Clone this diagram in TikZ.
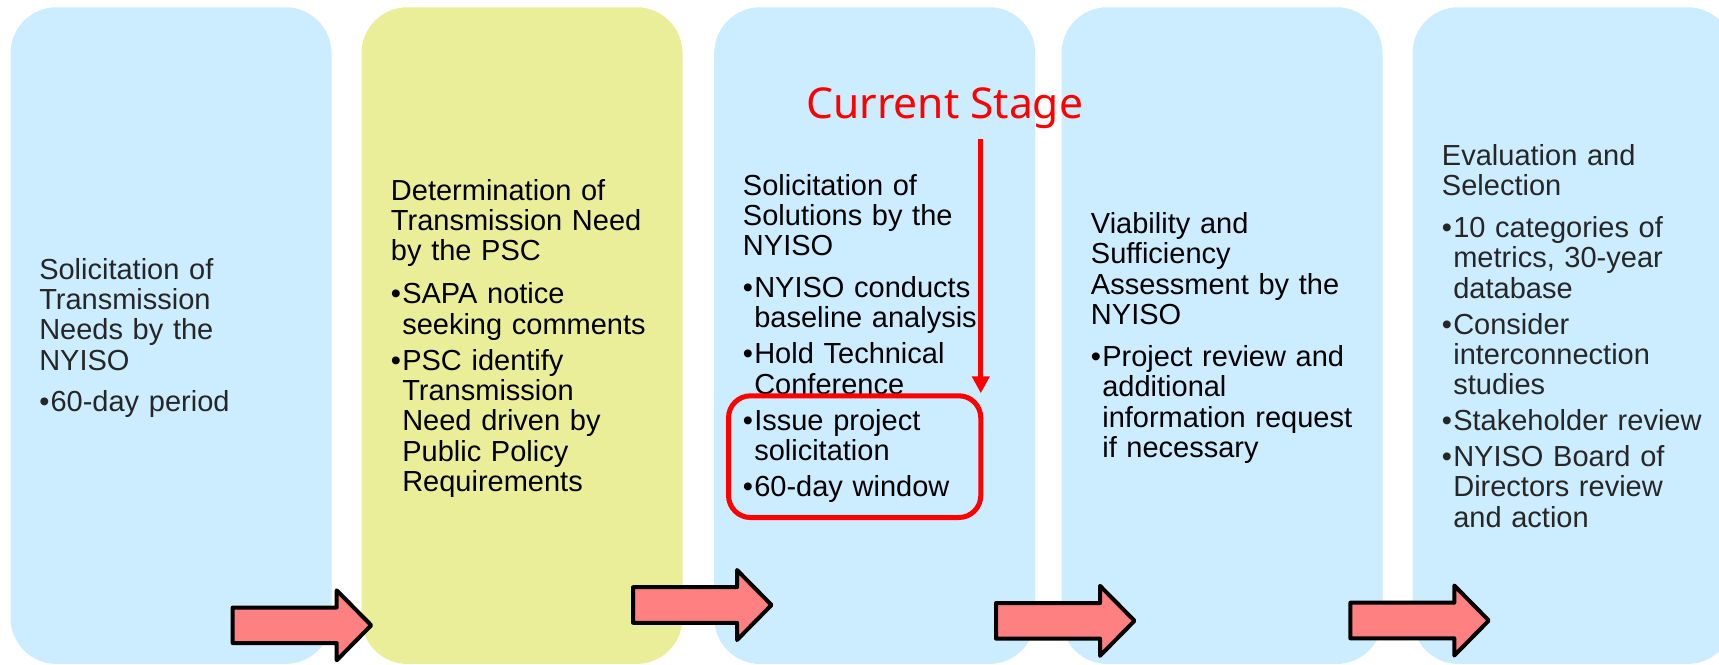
\documentclass[tikz,border=0pt]{standalone}
\usepackage{fontspec}
\setmainfont{Liberation Sans}
\newfontfamily\stagefont{Noto Sans}
\usetikzlibrary{arrows.meta}
\definecolor{boxblue}{RGB}{204,236,255}
\definecolor{boxyellow}{RGB}{234,238,152}
\definecolor{arrowpink}{RGB}{255,128,128}
\definecolor{softblack}{RGB}{38,38,38}
\newcommand\blt{\makebox[8.5pt][l]{•}}
\newcommand\ind{\hspace*{8.5pt}}
\newcommand\tsep{8.5pt}
\newcommand\bsep{4.1pt}
\tikzset{
  stagebox/.style={rectangle, inner sep=0pt, outer sep=0pt, minimum width=240.75pt,
    minimum height=492.5pt, rounded corners=34.5pt},
  txt/.style={anchor=base west, inner sep=0pt, text width=235pt, align=left,
    font=\fontsize{21.75pt}{22.8pt}\selectfont, text=black},
  blockarr/.style={fill=arrowpink, draw=black, line width=3pt, line join=round},
  barrow/.pic={\path[blockarr] (0,-17.8) -- (104,-17.8) -- (104,-35) -- (138.5,0)
    -- (104,35) -- (104,17.8) -- (0,17.8) -- cycle;},
  curbox/.style={draw=red, line width=3.75pt, rounded corners=16.5pt, inner sep=0pt,
    minimum width=189.2pt, minimum height=91.3pt},
  curarrow/.style={draw=red, line width=3.75pt, -{Triangle[width=12.75pt,length=12.75pt]}}
}
\begin{document}
\begin{tikzpicture}[x=0.75pt,y=-0.75pt]
\useasboundingbox (0,0) rectangle (1719,664);
\clip (0,0) rectangle (1719,664);
\fill[white] (0,0) rectangle (1719,664);
% stage boxes
\node[stagebox, fill=boxblue]   (b1) at (171,335.6) {};
\node[stagebox, fill=boxyellow] (b2) at (522,335.6) {};
\node[stagebox, fill=boxblue]   (b3) at (874.7,335.6) {};
\node[stagebox, fill=boxblue]   (b4) at (1222,335.6) {};
\node[stagebox, fill=boxblue]   (b5) at (1573,335.6) {};
% texts
\node[txt, text=softblack] (t1) at (39,279) {Solicitation of\\Transmission\\Needs by the\\NYISO\\[\tsep]\blt 60-day period};
\node[txt] (t2) at (390.7,200) {Determination of\\Transmission Need\\by the PSC\\[9.5pt]\blt SAPA notice\\\ind seeking comments\\[\bsep]\blt PSC identify\\\ind Transmission\\\ind Need driven by\\\ind Public Policy\\\ind Requirements};
\node[txt] (t3) at (742.7,195) {Solicitation of\\Solutions by the\\NYISO\\[\tsep]\blt NYISO conducts\\\ind baseline analysis\\[\bsep]\blt Hold Technical\\\ind Conference\\[\bsep]\blt Issue project\\\ind solicitation\\[\bsep]\blt 60-day window};
\node[txt] (t4) at (1090.7,233.3) {Viability and\\Sufficiency\\Assessment by the\\NYISO\\[\tsep]\blt Project review and\\\ind additional\\\ind information request\\\ind if necessary};
\node[txt, text=softblack] (t5) at (1441.7,165.2) {Evaluation and\\Selection\\[\tsep]\blt 10 categories of\\\ind metrics, 30-year\\\ind database\\[\bsep]\blt Consider\\\ind interconnection\\\ind studies\\[\bsep]\blt Stakeholder review\\[\bsep]\blt NYISO Board of\\\ind Directors review\\\ind and action};
% block arrows
\pic at (232.7,625.3) {barrow};
\pic at (633,605) {barrow};
\pic at (996,620.8) {barrow};
\pic at (1350.3,620.5) {barrow};
% current stage
\node[anchor=base west, inner sep=0pt, text=red, font=\stagefont\fontsize{31.9pt}{36pt}\selectfont] (cs) at (806,118.3) {Current Stage};
\node[curbox] (cur) at (854.65,456.65) {};
\coordinate (arrtop) at (980.8,139.3);
\draw[curarrow] (arrtop) -- (arrtop |- cur.north);
\end{tikzpicture}
\end{document}
